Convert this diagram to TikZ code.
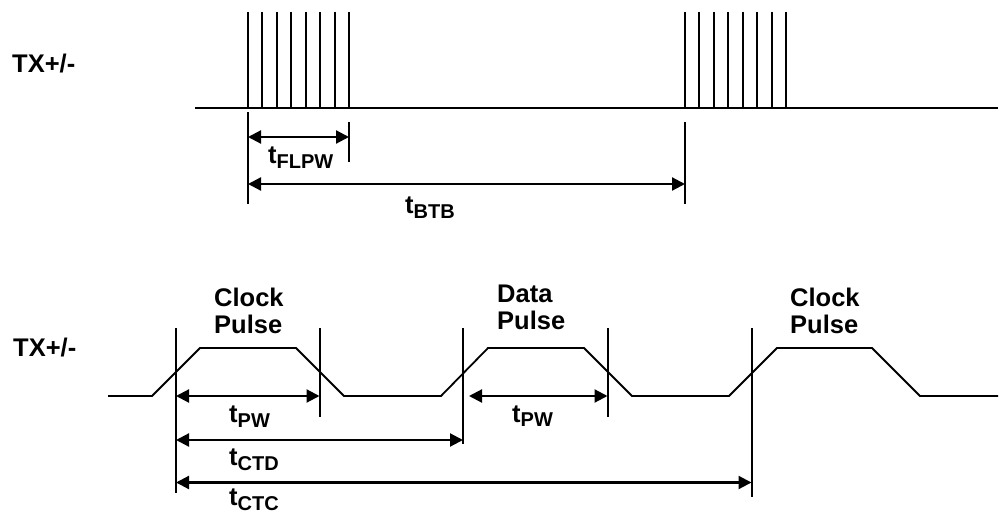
\documentclass[tikz,border=0pt]{standalone}
\usepackage{fontspec}
\setmainfont{Liberation Sans}
\usetikzlibrary{arrows.meta}
\tikzset{
  lbl/.style={font=\fontsize{25.5}{27}\selectfont\bfseries, inner sep=0pt},
  pulse/.style={line width=2pt},
  marker/.style={line width=2pt},
  wave/.style={line width=1.8pt, line join=miter},
  dim/.style={line width=2.2pt, {Triangle[length=13pt,width=13pt]}-{Triangle[length=13pt,width=13pt]}}
}
\newcommand{\tsub}[1]{t\raisebox{-4.5pt}{\fontsize{20}{20}\selectfont #1}}

\begin{document}
\begin{tikzpicture}[x=1pt,y=-1pt]
\useasboundingbox (0,0) rectangle (1004,519);

% upper trace: fast link pulse bursts
\node[lbl,anchor=base west] (txtop) at (12,73) {TX+/-};
\draw[line width=2.7pt] (195,108) -- (998,108);
\foreach \i in {0,...,7}
{
\draw[pulse] (248+14.43*\i,12) -- (248+14.43*\i,108);
\draw[pulse] (685+14.43*\i,12) -- (685+14.43*\i,108);
}

\coordinate (fa) at (248,137);
\coordinate (fb) at (349,137);
\coordinate (ba) at (248,184);
\coordinate (bb) at (685,184);
\draw[marker] (248,112) -- (248,204);
\draw[marker] (349,122) -- (349,162);
\draw[marker] (685,122) -- (685,204);
\draw[dim] (fa) -- (fb);
\draw[dim] (ba) -- (bb);
\node[lbl,anchor=base west] (tflpw) at (268,163.5) {\tsub{FLPW}};
\node[lbl,anchor=base west] (tbtb) at (405,213.5) {\tsub{BTB}};

% lower trace: clock and data pulses
\node[lbl,anchor=base west] (txbot) at (13,356.5) {TX+/-};
\draw[wave] (108,396) -- (152,396) -- (200,348) -- (296,348) -- (344,396)
  -- (441,396) -- (488,348) -- (584,348) -- (632,396)
  -- (729,396) -- (777,348) -- (872,348) -- (920,396) -- (998,396);

\node[lbl,anchor=north west,align=left] (clka) at (214,288) {Clock\\Pulse};
\node[lbl,anchor=north west,align=left] (data) at (497,285) {Data\\Pulse};
\node[lbl,anchor=north west,align=left] (clkb) at (790,288) {Clock\\Pulse};

\draw[marker] (176,328) -- (176,493);
\draw[marker] (319.5,328) -- (319.5,417);
\draw[marker] (463,328) -- (463,444);
\draw[marker] (607.5,328) -- (607.5,417);
\draw[marker] (751.5,328) -- (751.5,497);

\coordinate (pa) at (176,396);
\coordinate (pb) at (319.5,396);
\coordinate (qa) at (469,396);
\coordinate (qb) at (607.5,396);
\coordinate (da) at (176,440);
\coordinate (db) at (463,440);
\coordinate (ca) at (176,482.5);
\coordinate (cb) at (751.5,482.5);
\draw[dim] (pa) -- (pb);
\draw[dim] (qa) -- (qb);
\draw[dim] (da) -- (db);
\draw[dim] (ca) -- (cb);

\node[lbl,anchor=base west] (tpwa) at (229,422.5) {\tsub{PW}};
\node[lbl,anchor=base west] (tpwb) at (512,422) {\tsub{PW}};
\node[lbl,anchor=base west] (tctd) at (229,465.5) {\tsub{CTD}};
\node[lbl,anchor=base west] (tctc) at (229,505.5) {\tsub{CTC}};

\end{tikzpicture}
\end{document}
